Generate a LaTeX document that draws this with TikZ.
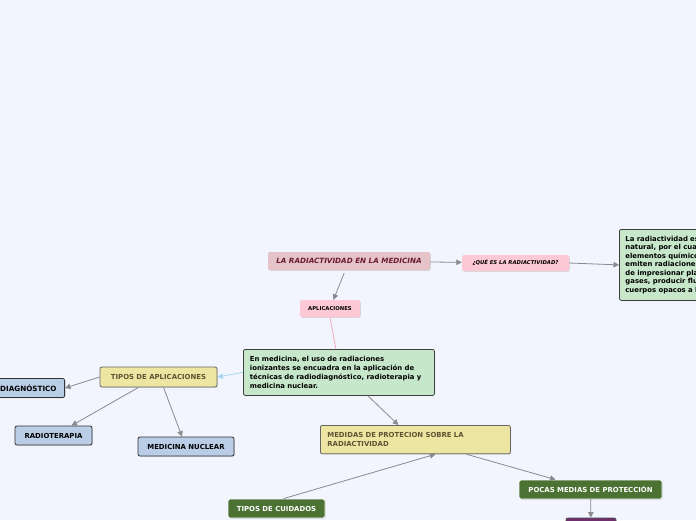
\documentclass[tikz,border=0pt]{standalone}
\usepackage{fontspec}
\setmainfont{DejaVu Sans}
\usetikzlibrary{arrows.meta,shadows}
\definecolor{bgcol}{HTML}{F2F4FE}
\definecolor{rosebox}{HTML}{E6C3C9}
\definecolor{pinkbox}{HTML}{FDC9D6}
\definecolor{mintbox}{HTML}{C7E7CA}
\definecolor{sandbox}{HTML}{EDE6A2}
\definecolor{bluebox}{HTML}{BACDE6}
\definecolor{leafbox}{HTML}{4B7133}
\definecolor{plumbox}{HTML}{70306F}
\definecolor{linkgray}{HTML}{8A8A8E}
\definecolor{linkblue}{HTML}{A9D5F2}
\definecolor{linkpink}{HTML}{F4A9BC}
\definecolor{maroon}{HTML}{6A1C2C}
\definecolor{olivetext}{HTML}{5C5432}
\begin{document}
\begin{tikzpicture}[x=1pt, y=-1pt,
    box/.style={rectangle, rounded corners=2pt, inner sep=2pt, font=\bfseries\fontsize{6.9}{9.2}\selectfont,
                drop shadow={shadow xshift=0.8pt, shadow yshift=-0.8pt, opacity=0.25}},
    title/.style={box, fill=rosebox, text=maroon, font=\bfseries\itshape\fontsize{7.2}{8}\selectfont,
                  minimum width=162pt, minimum height=18pt},
    pinkie/.style={box, fill=pinkbox, font=\bfseries\fontsize{5.3}{6}\selectfont, minimum height=16pt},
    note/.style={box, draw=black!75, thick, fill=mintbox, align=left, inner sep=8pt},
    sand/.style={box, draw=black!60, thick, fill=sandbox, text=olivetext, minimum height=19pt},
    sky/.style={box, draw=black!80, thick, fill=bluebox, minimum height=19pt},
    leaf/.style={box, draw=white, thick, fill=leafbox, text=white, minimum height=19pt},
    link/.style={draw=linkgray, thick, -{Triangle[length=5.5pt, width=5.5pt]}}]
    \fill[bgcol] (0,0) rectangle (696,520);
    \useasboundingbox (0,0) rectangle (696,520);
    \clip (0,0) rectangle (696,520);
    % main branch
    \node[title]  (title) at (349, 261) {LA RADIACTIVIDAD EN LA MEDICINA};
    \node[pinkie, font=\bfseries\itshape\fontsize{5.3}{6}\selectfont, minimum width=107pt] (que) at (515.5, 263) {¿QUÉ ES LA RADIACTIVIDAD?};
    \node[note, anchor=north west, minimum height=71pt, text width=150pt, inner sep=6pt,
          font=\bfseries\fontsize{6.9}{8.5}\selectfont] (def) at (619, 229)
        {La radiactividad es un\\natural, por el cual algunos\\elementos químicos\\emiten radiaciones\\de impresionar placas\\gases, producir fluorescencia\\cuerpos opacos a la luz};
    \node[pinkie, minimum width=60pt, minimum height=17pt] (apl) at (330, 308.5) {APLICACIONES};
    \node[note, anchor=north west, minimum width=191pt, minimum height=46pt, text width=178pt, inner sep=6.5pt] (enmed) at (243, 349)
        {En medicina, el uso de radiaciones\\ionizantes se encuadra en la aplicación de\\técnicas de radiodiagnóstico, radioterapia y\\medicina nuclear.};
    % tipos de aplicaciones
    \node[sand, minimum width=117pt, minimum height=20pt] (tapl) at (158.5, 377) {TIPOS DE APLICACIONES};
    \node[sky, anchor=east, inner xsep=8pt, font=\bfseries\fontsize{7.2}{9}\selectfont] (diag) at (65, 388) {RADIODIAGNÓSTICO};
    \node[sky, minimum width=77pt] (rt) at (53.5, 435.5) {RADIOTERAPIA};
    \node[sky, minimum width=96pt] (mn) at (186, 446.5) {MEDICINA NUCLEAR};
    % medidas de proteccion
    \node[sand, anchor=north west, minimum width=190pt, minimum height=27pt, text width=176pt, align=left, inner sep=7pt] (med) at (320, 425)
        {MEDIDAS DE PROTECION SOBRE LA\\RADIACTIVIDAD};
    \node[leaf, minimum width=143pt] (pocas) at (590.5, 489.5) {POCAS MEDIAS DE PROTECCIÓN};
    \node[leaf, minimum width=97pt] (cuid) at (276.5, 508.5) {TIPOS DE CUIDADOS};
    \node[box, draw=black!70, thick, fill=plumbox, minimum width=50pt, minimum height=20pt] (plum) at (591, 528) {};
    % connectors
    \draw[link, shorten <=3pt] (title) -- (apl);
    \draw[link] (title) -- (que);
    \draw[link] (que.east) -- (def.west);
    \draw[draw=linkpink, thick] (apl.south) -- ([xshift=-3pt]enmed.north);
    \draw[draw=linkblue, thick, -{Triangle[length=5.5pt, width=5.5pt]}] (enmed.west) -- (tapl.east);
    \draw[link] (tapl.west) -- (diag.east);
    \draw[link] ([xshift=-20pt]tapl.south) -- ([xshift=18pt]rt.north);
    \draw[link] ([xshift=5pt]tapl.south) -- ([xshift=-4pt]mn.north);
    \draw[link] ([xshift=29pt]enmed.south) -- ([xshift=-17pt]med.north);
    \draw[link] ([xshift=7pt]cuid.north) -- ([xshift=20pt]med.south);
    \draw[link] ([xshift=51pt]med.south) -- ([xshift=-35pt]pocas.north);
    \draw[link] (pocas) -- (plum);
\end{tikzpicture}
\end{document}
